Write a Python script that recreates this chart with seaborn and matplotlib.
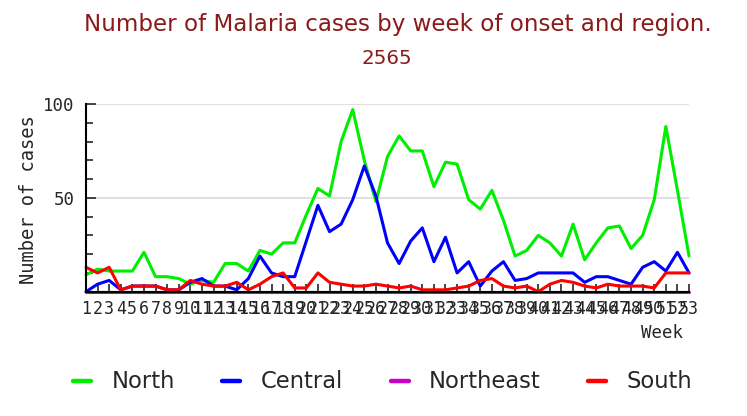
import matplotlib
matplotlib.use("Agg")
import matplotlib.pyplot as plt
import numpy as np
import seaborn as sb
import pandas as pd

weeks = list(range(1, 54))
regions = ["North", "Central", "Northeast", "South"]

north = [9, 12, 11, 11, 11, 21, 8, 8, 7, 4, 6, 5, 15, 15, 11, 22, 20, 26, 26,
         41, 55, 51, 80, 97, 70, 48, 72, 83, 75, 75, 56, 69, 68, 49, 44, 54,
         38, 19, 22, 30, 26, 19, 36, 17, 26, 34, 35, 23, 30, 49, 88, 54, 19]
central = [0, 4, 6, 1, 3, 3, 3, 1, 1, 5, 7, 3, 3, 1, 7, 19, 10, 8, 8,
           27, 46, 32, 36, 49, 67, 51, 26, 15, 27, 34, 16, 29, 10, 16, 3, 11,
           16, 6, 7, 10, 10, 10, 10, 5, 8, 8, 6, 4, 13, 16, 11, 21, 10]
northeast = [0] * 53
south = [13, 10, 13, 1, 3, 3, 3, 1, 1, 6, 4, 3, 3, 5, 1, 4, 8, 10, 2,
         2, 10, 5, 4, 3, 3, 4, 3, 2, 3, 1, 1, 1, 2, 3, 6, 7,
         3, 2, 3, 0, 4, 6, 5, 3, 2, 4, 3, 3, 3, 2, 10, 10, 10]

colors = {"North": "#00ee00", "Central": "#0000ff", "Northeast": "#cc00cc", "South": "#ff0000"}

df = pd.DataFrame({
    "Week": weeks * 4,
    "Cases": north + central + northeast + south,
    "Region": [r for r in regions for _ in weeks],
})

sb.set_style("white")
mono = "DejaVu Sans Mono"

fig = plt.figure(figsize=(7.47, 4.16), dpi=100)
ax = fig.add_axes([0.1151, 0.2988, 0.8073, 0.4512])

sb.lineplot(data=df, x="Week", y="Cases", hue="Region", hue_order=regions,
            palette=colors, linewidth=2.2, ax=ax, clip_on=False)

ax.set_xlim(1, 53)
ax.set_ylim(0, 100)

# grid only at 50 and 100
for g in (50, 100):
    ax.axhline(g, color="#dddddd", linewidth=1.3, zorder=0)

ax.set_yticks([50, 100])
ax.set_yticks(np.arange(0, 101, 10), minor=True)
ax.set_xticks(weeks)
ax.set_xticklabels([str(w) for w in weeks], fontfamily=mono, fontsize=12)
ax.set_yticklabels(["50", "100"], fontfamily=mono, fontsize=12.5)
ax.tick_params(axis="y", which="major", direction="in", length=7, width=1.2, pad=8, left=True)
ax.tick_params(axis="y", which="minor", direction="in", length=4.8, width=1.2, left=True)
ax.tick_params(axis="x", which="major", direction="in", length=5.5, width=1.2, pad=6, bottom=True)

for s in ("top", "right"):
    ax.spines[s].set_visible(False)
for s in ("left", "bottom"):
    ax.spines[s].set_color("black")
    ax.spines[s].set_linewidth(1.5)
    ax.spines[s].set_zorder(5)

ax.set_xlabel("Week", fontfamily=mono, fontsize=12.5, ha="right", va="center")
ax.xaxis.set_label_coords((683 - 86) / 603, -0.22)
ax.set_ylabel("Number of cases", fontfamily=mono, fontsize=13.5, va="center")
ax.yaxis.set_label_coords(-0.0954, 0.4886)

sb.move_legend(ax, "center", bbox_to_anchor=(0.492, -0.481), ncol=4, frameon=False,
               title=None, fontsize=16.3, handlelength=0.8, handletextpad=0.9,
               columnspacing=2.1, borderpad=0)
for ln in ax.get_legend().get_lines():
    ln.set_linewidth(3.2)

fig.text(398 / 747, 1 - 25 / 416, "Number of Malaria cases by week of onset and region.",
         ha="center", va="center", fontsize=16.6, color="#8b1a1a")
fig.text(387 / 747, 1 - 58 / 416, "2565", ha="center", va="center", fontsize=14.3, color="#8b1a1a")

fig.savefig("out.png", dpi=100, facecolor="white")
